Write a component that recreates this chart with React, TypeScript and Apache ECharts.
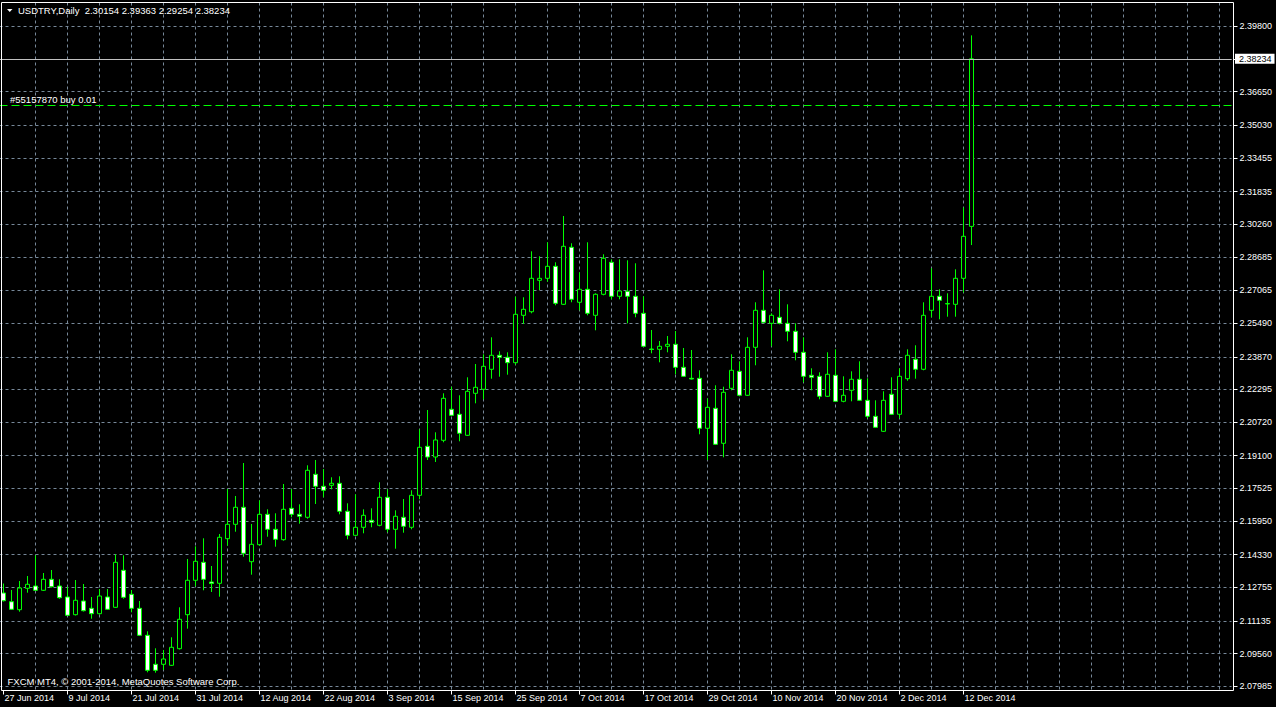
import React, { useEffect, useRef } from 'react';
import * as echarts from 'echarts';

const FONT = "'Liberation Sans', Arial, sans-serif";

const SYMBOL_TITLE = 'USDTRY,Daily';
const HEADER_OHLC = ['2.30154', '2.39363', '2.29254', '2.38234'];
const WATERMARK = 'FXCM MT4, \u00a9 2001-2014, MetaQuotes Software Corp.';
const ORDER_TEXT = '#55157870 buy 0.01';
const ORDER_PRICE = 2.35992;
const BID_PRICE = 2.38234;

const FIRST_DATE_UTC = Date.UTC(2014, 5, 27);
const BAR_COUNT = 122;
const SHIFT_BARS = 32;
const MONTHS = ['Jan', 'Feb', 'Mar', 'Apr', 'May', 'Jun', 'Jul', 'Aug', 'Sep', 'Oct', 'Nov', 'Dec'];

const OPEN = [
  2.12483, 2.12063, 2.11678, 2.12709, 2.12820, 2.12613, 2.13143, 2.12820, 2.12290, 2.11437,
  2.12097, 2.11745, 2.11485, 2.12290, 2.11793, 2.13577, 2.12420, 2.11745, 2.10444, 2.09046,
  2.09046, 2.08997, 2.09798, 2.11437, 2.13095, 2.13962, 2.13013, 2.12950, 2.15100, 2.15794,
  2.16614, 2.13991, 2.14811, 2.16276, 2.15553, 2.15052, 2.16565, 2.16276, 2.16132, 2.18204,
  2.17626, 2.17674, 2.17771, 2.16421, 2.15264, 2.15650, 2.15987, 2.15746, 2.17096, 2.15553,
  2.16132, 2.15650, 2.17192, 2.19554, 2.19038, 2.19843, 2.21338, 2.21097, 2.20084, 2.22109,
  2.22302, 2.23266, 2.23941, 2.23844, 2.23584, 2.25869, 2.26042, 2.27556, 2.27652, 2.28231,
  2.26399, 2.29147, 2.26496, 2.27122, 2.25869, 2.26881, 2.28424, 2.26785, 2.27026, 2.26785,
  2.25965, 2.24244, 2.24230, 2.24375, 2.24471, 2.23362, 2.22832, 2.22832, 2.20422, 2.21386,
  2.19699, 2.22350, 2.23169, 2.22013, 2.24326, 2.26110, 2.25483, 2.25773, 2.25483, 2.25098,
  2.24085, 2.22977, 2.22928, 2.21964, 2.22977, 2.21723, 2.22254, 2.22784, 2.21771, 2.21000,
  2.20277, 2.22061, 2.21097, 2.22813, 2.23748, 2.23266, 2.26110, 2.26785, 2.26414, 2.26399,
  2.27652, 2.30154,
];

const HIGH = [
  2.12940, 2.12627, 2.13061, 2.13302, 2.14300, 2.13447, 2.13591, 2.13143, 2.12786, 2.13109,
  2.12916, 2.12290, 2.12675, 2.12675, 2.14348, 2.14300, 2.12627, 2.12097, 2.10636, 2.09817,
  2.09735, 2.10347, 2.11793, 2.14122, 2.14734, 2.15119, 2.13784, 2.15327, 2.17496, 2.17158,
  2.18749, 2.15809, 2.16951, 2.16517, 2.16324, 2.17737, 2.17496, 2.16758, 2.18638, 2.18894,
  2.18460, 2.18060, 2.18108, 2.16806, 2.17240, 2.16517, 2.16565, 2.17819, 2.17481, 2.16469,
  2.17014, 2.17433, 2.20374, 2.21304, 2.20229, 2.22109, 2.22427, 2.22013, 2.22880, 2.23521,
  2.23989, 2.24808, 2.24134, 2.24085, 2.26766, 2.26737, 2.28954, 2.28713, 2.29388, 2.28424,
  2.30656, 2.29340, 2.27942, 2.29388, 2.26929, 2.28809, 2.28568, 2.28568, 2.28520, 2.28376,
  2.26785, 2.25160, 2.24630, 2.24871, 2.25112, 2.24293, 2.24196, 2.23218, 2.21868, 2.22495,
  2.22427, 2.23989, 2.23651, 2.24808, 2.26496, 2.28038, 2.25965, 2.27122, 2.26399, 2.25483,
  2.24808, 2.23314, 2.23121, 2.24085, 2.24230, 2.22928, 2.23169, 2.23651, 2.22832, 2.21771,
  2.22205, 2.22880, 2.23314, 2.24230, 2.24423, 2.26496, 2.28135, 2.27122, 2.26929, 2.28086,
  2.31065, 2.39363,
];

const LOW = [
  2.12073, 2.11663, 2.11581, 2.12497, 2.12579, 2.12579, 2.12748, 2.12208, 2.11374, 2.11398,
  2.11591, 2.11244, 2.11446, 2.11663, 2.11760, 2.12208, 2.11552, 2.10410, 2.08660, 2.08641,
  2.08771, 2.08964, 2.09759, 2.10762, 2.12806, 2.12613, 2.12531, 2.12304, 2.14763, 2.15437,
  2.14232, 2.13365, 2.14763, 2.15196, 2.14714, 2.15004, 2.16132, 2.15823, 2.16064, 2.16773,
  2.17096, 2.17481, 2.16276, 2.15071, 2.15230, 2.15360, 2.15650, 2.15698, 2.15409, 2.14618,
  2.15389, 2.15553, 2.16999, 2.18894, 2.18797, 2.19747, 2.21015, 2.19795, 2.20051, 2.21627,
  2.21820, 2.22813, 2.22909, 2.23006, 2.23488, 2.25450, 2.25965, 2.27088, 2.27489, 2.26351,
  2.26365, 2.26496, 2.26110, 2.25869, 2.25146, 2.26833, 2.26640, 2.26640, 2.25483, 2.25773,
  2.24341, 2.24037, 2.23603, 2.24085, 2.23025, 2.22895, 2.22774, 2.20133, 2.18894, 2.19617,
  2.19024, 2.22254, 2.21964, 2.21979, 2.23459, 2.25498, 2.24375, 2.25435, 2.24616, 2.23700,
  2.22639, 2.22254, 2.21820, 2.21931, 2.21690, 2.21675, 2.21723, 2.21738, 2.20904, 2.20436,
  2.20243, 2.21063, 2.20904, 2.22716, 2.22813, 2.23218, 2.25773, 2.25676, 2.25801, 2.25801,
  2.26968, 2.29254,
];

const CLOSE = [
  2.12111, 2.11697, 2.12724, 2.12902, 2.12613, 2.13143, 2.12786, 2.12256, 2.11408, 2.12131,
  2.11629, 2.11485, 2.12338, 2.11697, 2.13962, 2.12275, 2.11745, 2.10444, 2.08756, 2.08756,
  2.09301, 2.09865, 2.11215, 2.13095, 2.14011, 2.13143, 2.12940, 2.15168, 2.15794, 2.16614,
  2.14396, 2.14830, 2.16276, 2.15553, 2.15071, 2.16517, 2.16276, 2.16180, 2.18397, 2.17626,
  2.17433, 2.17771, 2.16421, 2.15264, 2.15650, 2.16228, 2.15891, 2.17096, 2.15553, 2.16180,
  2.15698, 2.17192, 2.19506, 2.19038, 2.19858, 2.21868, 2.21048, 2.20181, 2.22205, 2.22398,
  2.23410, 2.23941, 2.23844, 2.23584, 2.25917, 2.26158, 2.27652, 2.27652, 2.28231, 2.26447,
  2.29195, 2.26640, 2.27122, 2.25965, 2.26881, 2.28617, 2.26785, 2.27040, 2.26785, 2.25965,
  2.24375, 2.24220, 2.24375, 2.24471, 2.23362, 2.22928, 2.22798, 2.20422, 2.21434, 2.19650,
  2.22157, 2.23218, 2.22013, 2.24326, 2.26110, 2.25531, 2.25869, 2.25483, 2.25098, 2.24085,
  2.22928, 2.22880, 2.21964, 2.23025, 2.21723, 2.22013, 2.22784, 2.21771, 2.21000, 2.20470,
  2.21771, 2.21097, 2.22928, 2.23941, 2.23266, 2.25869, 2.26785, 2.26592, 2.26438, 2.27652,
  2.29677, 2.38234,
];

// price grid lines (MT4 equal pixel spacing) and the labels printed at them
const Y_GRID = [
  2.07985, 2.09560, 2.11135, 2.12755, 2.14330, 2.15950, 2.17525, 2.19100, 2.20720, 2.22295,
  2.23870, 2.25490, 2.27065, 2.28685, 2.30260, 2.31835, 2.33455, 2.35030, 2.36650, 2.38225,
  2.39800,
];
const Y_LABELS = [
  2.07985, 2.09560, 2.11135, 2.12755, 2.14330, 2.15950, 2.17525, 2.19100, 2.20720, 2.22295,
  2.23870, 2.25490, 2.27065, 2.28685, 2.30260, 2.31835, 2.33455, 2.35030, 2.36650, 2.39800,
];
const Y_MIN = 2.077826;
const Y_MAX = 2.409472;

function weekdayLabels(startUtc: number, n: number): string[] {
  const out: string[] = [];
  let t = startUtc;
  while (out.length < n) {
    const d = new Date(t);
    const wd = d.getUTCDay();
    if (wd !== 0 && wd !== 6) {
      out.push(`${d.getUTCDate()} ${MONTHS[d.getUTCMonth()]} ${d.getUTCFullYear()}`);
    }
    t += 86400000;
  }
  return out;
}

const DATES = weekdayLabels(FIRST_DATE_UTC, BAR_COUNT);
const CATEGORIES = [...DATES, ...Array.from({ length: SHIFT_BARS }, (_, i) => `_${i}`)];

export default function App() {
  const ref = useRef<HTMLDivElement>(null);

  useEffect(() => {
    document.body.style.margin = '0';
    document.body.style.background = '#000';
    if (!ref.current) return;
    const chart = echarts.init(ref.current, undefined, { renderer: 'svg' });

    const candleData = OPEN.map((o, i) => [o, CLOSE[i], LOW[i], HIGH[i]]);
    const labelInterval = (idx: number) => idx < BAR_COUNT && idx % 8 === 0;
    const gridInterval = (idx: number) => idx > 0 && idx % 4 === 0;
    const gridLine = { color: '#778899', width: 1, type: [3, 3] };

    const option: any = {
      animation: false,
      backgroundColor: '#000000',
      grid: { left: -0.5, top: 2.5, width: 1232, height: 688, show: false, outerBoundsMode: 'none' },
      xAxis: {
        type: 'category',
        data: CATEGORIES,
        boundaryGap: true,
        axisLine: { show: false },
        axisTick: { show: true, alignWithLabel: true, interval: labelInterval, length: 4, lineStyle: { color: '#ffffff' } },
        axisLabel: {
          show: true,
          interval: labelInterval,
          color: '#ffffff',
          fontFamily: FONT,
          fontSize: 9,
          align: 'left',
          margin: 3,
          padding: [0, 0, 0, 1],
          formatter: (v: string) => (v.startsWith('_') ? '' : v),
        },
        splitLine: { show: true, interval: gridInterval, alignWithLabel: true, lineStyle: gridLine },
      },
      yAxis: {
        type: 'value',
        position: 'right',
        offset: 2,
        min: Y_MIN,
        max: Y_MAX,
        scale: true,
        axisLine: { show: false },
        axisTick: { show: true, length: 4, customValues: Y_GRID, lineStyle: { color: '#ffffff' } },
        axisLabel: {
          show: true,
          customValues: Y_LABELS,
          color: '#ffffff',
          fontFamily: FONT,
          fontSize: 9,
          margin: 6,
          formatter: (v: number) => v.toFixed(5),
        },
        splitLine: { show: true, lineStyle: gridLine },
      },
      series: [
        {
          type: 'candlestick',
          data: candleData,
          barWidth: 4,
          itemStyle: {
            color: '#000000',
            color0: '#ffffff',
            borderColor: '#00ff00',
            borderColor0: '#00ff00',
            borderWidth: 1,
          },
          markLine: {
            silent: true,
            symbol: ['none', 'none'],
            precision: 5,
            animation: false,
            data: [
              {
                yAxis: ORDER_PRICE,
                lineStyle: { color: '#00ff00', width: 1, type: [8, 4] },
                label: { show: false },
              },
              {
                yAxis: BID_PRICE,
                lineStyle: { color: '#c0c0c0', width: 1, type: 'solid' },
                label: {
                  show: true,
                  position: 'end',
                  distance: 3.5,
                  formatter: BID_PRICE.toFixed(5),
                  color: '#000000',
                  backgroundColor: '#ffffff',
                  padding: [1, 3, 0, 4],
                  fontFamily: FONT,
                  fontSize: 9,
                },
              },
            ],
          },
        },
      ],
      graphic: [
        {
          type: 'rect',
          silent: true,
          z: 100,
          shape: { x: 1.5, y: 2.5, width: 1232, height: 688 },
          style: { fill: 'none', stroke: '#ffffff', lineWidth: 1 },
        },
        {
          type: 'polygon',
          silent: true,
          z: 100,
          shape: { points: [[7, 9], [12.5, 9], [9.75, 12]] },
          style: { fill: '#ffffff' },
        },
        {
          type: 'text',
          silent: true,
          z: 100,
          x: 18,
          y: 10.5,
          style: {
            text: `${SYMBOL_TITLE}\u00a0\u00a0${HEADER_OHLC.join(' ')}`,
            fill: '#ffffff',
            fontSize: 9.5,
            fontFamily: FONT,
            verticalAlign: 'middle',
          },
        },
        {
          type: 'text',
          silent: true,
          z: 100,
          x: 10,
          y: 99.5,
          style: { text: ORDER_TEXT, fill: '#ffffff', fontSize: 9.5, fontFamily: FONT, verticalAlign: 'middle' },
        },
        {
          type: 'text',
          silent: true,
          z: 100,
          x: 7.5,
          y: 681.5,
          style: { text: WATERMARK, fill: '#ffffff', fontSize: 9.5, fontFamily: FONT, verticalAlign: 'middle' },
        },
      ],
    };

    chart.setOption(option);
    return () => chart.dispose();
  }, []);

  return (
    <div
      ref={ref}
      style={{ position: 'absolute', left: 0, top: 0, width: 1276, height: 707, background: '#000' }}
    />
  );
}
